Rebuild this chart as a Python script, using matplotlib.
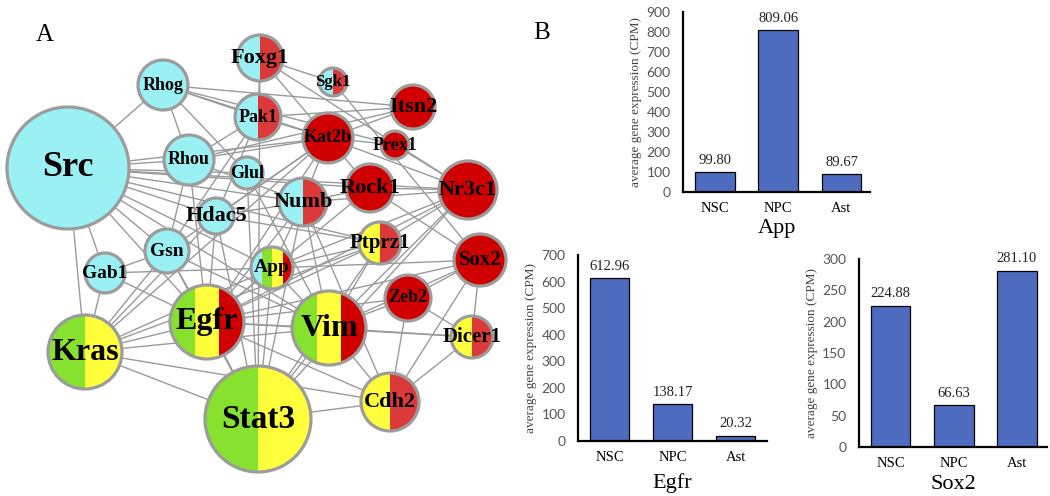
import matplotlib
matplotlib.use("Agg")
import matplotlib.pyplot as plt
from matplotlib.patches import Circle, Rectangle

# ---- panel A: network ----
genes = ["Src", "Rhog", "Foxg1", "Sgk1", "Pak1", "Itsn2", "Kat2b", "Prex1", "Rhou", "Glul",
         "Rock1", "Nr3c1", "Numb", "Hdac5", "Ptprz1", "Gsn", "Gab1", "App", "Sox2", "Zeb2",
         "Egfr", "Vim", "Kras", "Dicer1", "Stat3", "Cdh2"]

# which cell types each gene is marked in (C=cyan, G=green, Y=yellow, R=red, H=half red)
gene_groups = ["C", "C", "CH", "CH", "CH", "R", "R", "R", "C", "C",
               "R", "R", "CH", "C", "YH", "C", "C", "CGYR", "R", "R",
               "GYR", "GYR", "GY", "YH", "GY", "YH"]

interactions = [
    ("Src", "Rhog"), ("Src", "Rhou"), ("Src", "Glul"), ("Src", "Rock1"), ("Src", "Nr3c1"),
    ("Src", "Kat2b"), ("Src", "Numb"), ("Src", "Hdac5"), ("Src", "Gsn"), ("Src", "Gab1"),
    ("Src", "Kras"), ("Src", "App"), ("Src", "Egfr"), ("Src", "Ptprz1"), ("Src", "Vim"),
    ("Rhog", "Rhou"), ("Rhog", "Pak1"), ("Rhog", "Itsn2"), ("Rhog", "Kat2b"), ("Rhog", "Prex1"),
    ("Rhog", "Glul"),
    ("Foxg1", "Sgk1"), ("Foxg1", "Pak1"), ("Foxg1", "Kat2b"), ("Foxg1", "Stat3"), ("Foxg1", "Nr3c1"),
    ("Sgk1", "Sox2"),
    ("Pak1", "Itsn2"), ("Pak1", "Kat2b"), ("Pak1", "Rhou"), ("Pak1", "Hdac5"), ("Pak1", "Gsn"),
    ("Itsn2", "Kat2b"), ("Itsn2", "Rhou"),
    ("Kat2b", "Rhou"), ("Kat2b", "Prex1"), ("Kat2b", "Nr3c1"), ("Kat2b", "Rock1"), ("Kat2b", "Numb"),
    ("Kat2b", "Hdac5"), ("Kat2b", "Gsn"), ("Kat2b", "Egfr"), ("Kat2b", "Kras"),
    ("Prex1", "Nr3c1"),
    ("Rhou", "Gsn"), ("Rhou", "Egfr"), ("Rhou", "Numb"),
    ("Glul", "Vim"), ("Glul", "Stat3"),
    ("Rock1", "Nr3c1"), ("Rock1", "Numb"), ("Rock1", "Sox2"), ("Rock1", "Egfr"),
    ("Nr3c1", "Ptprz1"), ("Nr3c1", "Numb"), ("Nr3c1", "App"), ("Nr3c1", "Egfr"), ("Nr3c1", "Vim"),
    ("Nr3c1", "Stat3"),
    ("Numb", "Hdac5"), ("Numb", "App"), ("Numb", "Vim"), ("Numb", "Stat3"), ("Numb", "Egfr"),
    ("Numb", "Cdh2"),
    ("Hdac5", "Egfr"), ("Hdac5", "Stat3"), ("Hdac5", "Kras"), ("Hdac5", "Ptprz1"),
    ("Ptprz1", "Vim"), ("Ptprz1", "Egfr"), ("Ptprz1", "App"), ("Ptprz1", "Kras"), ("Ptprz1", "Stat3"),
    ("Gsn", "Kras"), ("Gsn", "Egfr"), ("Gsn", "Vim"), ("Gsn", "Stat3"), ("Gsn", "Gab1"),
    ("Gab1", "Kras"), ("Gab1", "Egfr"), ("Gab1", "App"),
    ("App", "Kras"), ("App", "Egfr"), ("App", "Vim"), ("App", "Stat3"), ("App", "Sox2"),
    ("Sox2", "Zeb2"), ("Sox2", "Vim"), ("Sox2", "Dicer1"), ("Sox2", "Egfr"), ("Sox2", "Cdh2"),
    ("Zeb2", "Vim"), ("Zeb2", "Dicer1"), ("Zeb2", "Cdh2"), ("Zeb2", "Egfr"),
    ("Egfr", "Kras"), ("Egfr", "Stat3"), ("Egfr", "Vim"), ("Egfr", "Cdh2"), ("Egfr", "Dicer1"),
    ("Vim", "Stat3"), ("Vim", "Cdh2"), ("Vim", "Dicer1"), ("Vim", "Kras"),
    ("Kras", "Stat3"), ("Kras", "Cdh2"),
    ("Dicer1", "Cdh2"), ("Stat3", "Cdh2"),
]

# ---- panel B: bar data ----
cell_types = ["NSC", "NPC", "Ast"]
app_cpm = [99.80, 809.06, 89.67]
egfr_cpm = [612.96, 138.17, 20.32]
sox2_cpm = [224.88, 66.63, 281.10]

# layout of the network (pixel positions / radii / label sizes)
node_xy = {
    "Src": (68, 168), "Rhog": (163, 85), "Foxg1": (260, 58), "Sgk1": (333, 82),
    "Pak1": (258, 117), "Itsn2": (413, 107), "Kat2b": (328, 138), "Prex1": (395, 145),
    "Rhou": (189, 160), "Glul": (247, 173), "Rock1": (370, 188), "Nr3c1": (468, 190),
    "Numb": (303, 202), "Hdac5": (216, 216), "Ptprz1": (380, 243), "Gsn": (167, 251),
    "Gab1": (105, 273), "App": (272, 268), "Sox2": (480, 260), "Zeb2": (408, 298),
    "Egfr": (207, 322), "Vim": (329, 328), "Kras": (85, 352), "Dicer1": (472, 337),
    "Stat3": (258, 419), "Cdh2": (390, 402),
}
node_r = {
    "Src": 61, "Rhog": 25, "Foxg1": 23, "Sgk1": 14, "Pak1": 23, "Itsn2": 22, "Kat2b": 25,
    "Prex1": 14, "Rhou": 25, "Glul": 16, "Rock1": 24, "Nr3c1": 29, "Numb": 24, "Hdac5": 18,
    "Ptprz1": 21, "Gsn": 22, "Gab1": 20, "App": 21, "Sox2": 26, "Zeb2": 23, "Egfr": 37,
    "Vim": 37, "Kras": 37, "Dicer1": 21, "Stat3": 53, "Cdh2": 29,
}
label_size = {
    "Src": 26, "Stat3": 24, "Kras": 23, "Egfr": 23, "Vim": 23,
    "Nr3c1": 16, "Sox2": 15, "Itsn2": 16, "Rock1": 16, "Foxg1": 16, "Hdac5": 16,
    "Numb": 16, "Ptprz1": 15, "Cdh2": 16, "Dicer1": 15,
    "Rhog": 13, "Rhou": 13, "Pak1": 13, "Glul": 13, "Gsn": 14, "Gab1": 14, "App": 14,
    "Zeb2": 13, "Kat2b": 13, "Prex1": 13, "Sgk1": 12,
}
colors = {"C": "#9BF0F4", "G": "#86E22E", "Y": "#FFFF3C", "R": "#D00000", "H": "#DC3A3A"}


def main():
    fig = plt.figure(figsize=(10.5, 4.96), dpi=100)

    ax = fig.add_axes([0, 0, 520 / 1050, 1])
    ax.set_xlim(0, 520)
    ax.set_ylim(496, 0)
    ax.set_aspect("equal")
    ax.axis("off")

    for a, b in interactions:
        (x1, y1), (x2, y2) = node_xy[a], node_xy[b]
        ax.plot([x1, x2], [y1, y2], color="#9a9a9a", lw=1.0, zorder=1)

    for g, grp in zip(genes, gene_groups):
        x, y = node_xy[g]
        r = node_r[g]
        clip = Circle((x, y), r, transform=ax.transData)
        n = len(grp)
        w = 2 * r / n
        for i, c in enumerate(grp):
            rect = Rectangle((x - r + i * w, y - r), w, 2 * r, facecolor=colors[c],
                             lw=0, zorder=2)
            ax.add_patch(rect)
            rect.set_clip_path(clip)
        ax.add_patch(Circle((x, y), r, fill=False, edgecolor="#9c9c9c", lw=2.3, zorder=3))
        ax.text(x, y, g, ha="center", va="center", fontsize=label_size[g],
                fontweight="bold", family="Liberation Serif", zorder=4)

    fig.text(45 / 1050, 1 - 35 / 496, "A", fontsize=18, family="Liberation Serif",
             ha="center", va="center")
    fig.text(542 / 1050, 1 - 33 / 496, "B", fontsize=18, family="Liberation Serif",
             ha="center", va="center")

    # ---- bar charts ----
    panels = [
        ("App", app_cpm, [683 / 1050, 1 - 192 / 496, 187 / 1050, 180 / 496], 900, 100, (-0.5, 2.45), 3),
        ("Egfr", egfr_cpm, [578 / 1050, 1 - 441 / 496, 189 / 1050, 186 / 496], 700, 100, (-0.5, 2.5), 7),
        ("Sox2", sox2_cpm, [859 / 1050, 1 - 447 / 496, 188 / 1050, 188 / 496], 300, 50, (-0.5, 2.48), 4),
    ]
    for name, vals, pos, ymax, step, xl, tpad in panels:
        bx = fig.add_axes(pos)
        xs = range(len(cell_types))
        bx.bar(xs, vals, width=0.63, color="#4E6CBF", edgecolor="black", linewidth=0.9)
        for x, v in zip(xs, vals):
            bx.text(x, v + ymax * 0.03, f"{v:.2f}", ha="center", va="bottom",
                    fontsize=10.5, family="Liberation Serif", color="#222222")
        bx.set_ylim(0, ymax)
        bx.set_xlim(*xl)
        bx.set_yticks(range(0, ymax + 1, step))
        bx.set_xticks(list(xs))
        bx.set_xticklabels(cell_types, family="Liberation Serif", fontsize=10.5)
        for t in bx.get_yticklabels():
            t.set_family("Lato")
            t.set_fontsize(10)
            t.set_color("#555555")
        bx.tick_params(length=0, axis="y", pad=9)
        bx.tick_params(length=0, axis="x", pad=7)
        for s in ["top", "right"]:
            bx.spines[s].set_visible(False)
        for s in ["left", "bottom"]:
            bx.spines[s].set_linewidth(1.6)
        bx.set_ylabel("average gene expression (CPM)", family="Liberation Serif",
                      fontsize=9.5, color="#444444", labelpad=3)
        bx.set_xlabel(name, family="Liberation Serif", fontsize=16, labelpad=tpad)

    plt.savefig("out.png", dpi=100)
    plt.close()


if __name__ == "__main__":
    main()
